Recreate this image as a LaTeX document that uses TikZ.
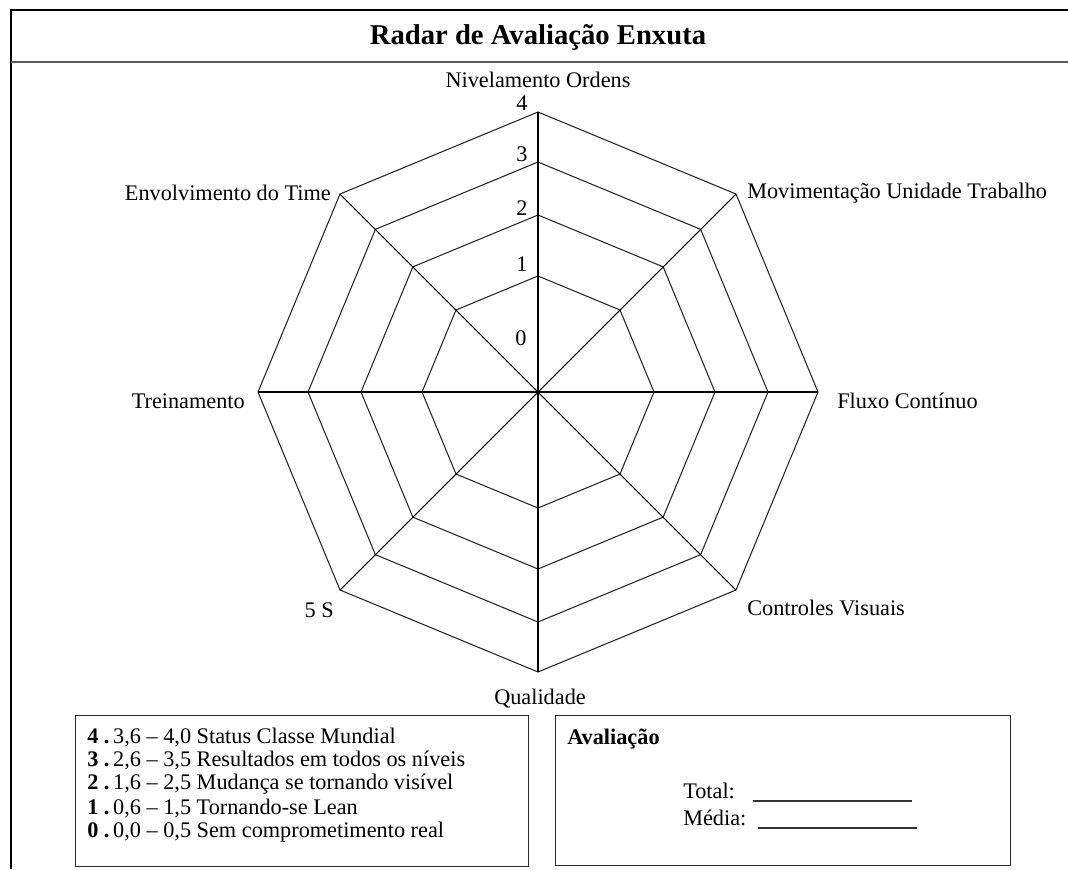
\documentclass[tikz,border=0pt]{standalone}
\usepackage{fontspec}
\setmainfont{Liberation Serif}
\usetikzlibrary{calc}
\begin{document}
\begin{tikzpicture}[x=0.75pt,y=-0.75pt,
  lbl/.style={font=\fontsize{16.7}{19}\selectfont, inner sep=0pt},
  ring/.style={draw=black!85, line width=0.8pt},
  spoke/.style={draw=black, line width=0.8pt},
  framebox/.style={draw=black!85, line width=1.1pt, anchor=north west, inner sep=0pt},
  blank/.style={draw=black!80, line width=0.8pt}]
\useasboundingbox (0,0) rectangle (1068,869);
% outer frame and title bar
\draw[line width=2.2pt] (11,869) -- (11,10) -- (1068,10);
\draw[line width=1.4pt, black!65] (11,62) -- (1068,62);
\node[font=\bfseries\fontsize{21.5}{25}\selectfont, inner sep=0pt] (title) at (538,37) {Radar de Avaliação Enxuta};

% radar grid: four octagonal rings and eight spokes
\coordinate (ctr) at (538,392);
\foreach \r/\n in {116/a,177/b,230/c,280/d} {
  \foreach \k in {0,...,7} \coordinate (\n\k) at ($(ctr)+(\k*45:\r)$);
  \draw[ring] (\n0)--(\n1)--(\n2)--(\n3)--(\n4)--(\n5)--(\n6)--(\n7)--cycle;
}
\foreach \k in {0,...,7} \draw[spoke] (ctr) -- (d\k);

% scale values on the vertical axis
\node[lbl] (v4) at (522,103) {4};
\node[lbl] (v3) at (522,154) {3};
\node[lbl] (v2) at (522,208) {2};
\node[lbl] (v1) at (522,264) {1};
\node[lbl] (v0) at (521,338) {0};

% axis names
\node[lbl] (ax0) at (538,80) {Nivelamento Ordens};
\node[lbl, anchor=west] (ax1) at (747,193) {Movimentação Unidade Trabalho};
\node[lbl, anchor=west] (ax2) at (837,401) {Fluxo Contínuo};
\node[lbl, anchor=west] (ax3) at (747,608) {Controles Visuais};
\node[lbl] (ax4) at (540,699) {Qualidade};
\node[lbl, anchor=east] (ax5) at (334,610) {5 S};
\node[lbl, anchor=east] (ax6) at (245,401) {Treinamento};
\node[lbl, anchor=east] (ax7) at (331,193) {Envolvimento do Time};

% legend of levels
\node[framebox, minimum width=339.75pt, minimum height=113.25pt] (legend) at (75,715) {};
\node[lbl, anchor=west] (l4) at (87,737) {{\bfseries 4 .}\,3,6 – 4,0 Status Classe Mundial};
\node[lbl, anchor=west] (l3) at (87,760) {{\bfseries 3 .}\,2,6 – 3,5 Resultados em todos os níveis};
\node[lbl, anchor=west] (l2) at (87,784) {{\bfseries 2 .}\,1,6 – 2,5 Mudança se tornando visível};
\node[lbl, anchor=west] (l1) at (87,808) {{\bfseries 1 .}\,0,6 – 1,5 Tornando-se Lean};
\node[lbl, anchor=west] (l0) at (87,832) {{\bfseries 0 .}\,0,0 – 0,5 Sem comprometimento real};

% evaluation box
\node[framebox, minimum width=341.25pt, minimum height=112.5pt] (aval) at (555,715) {};
\node[lbl, anchor=west, font=\bfseries\fontsize{16.7}{19}\selectfont] (avt) at (567,739) {Avaliação};
\node[lbl, anchor=west] (tot) at (683,791) {Total:};
\node[lbl, anchor=west] (med) at (683,818) {Média:};
\coordinate (tot1) at (753,801); \coordinate (tot2) at (912,801);
\coordinate (med1) at (758,828); \coordinate (med2) at (917,828);
\draw[blank] (tot1) -- (tot2);
\draw[blank] (med1) -- (med2);
\end{tikzpicture}
\end{document}
